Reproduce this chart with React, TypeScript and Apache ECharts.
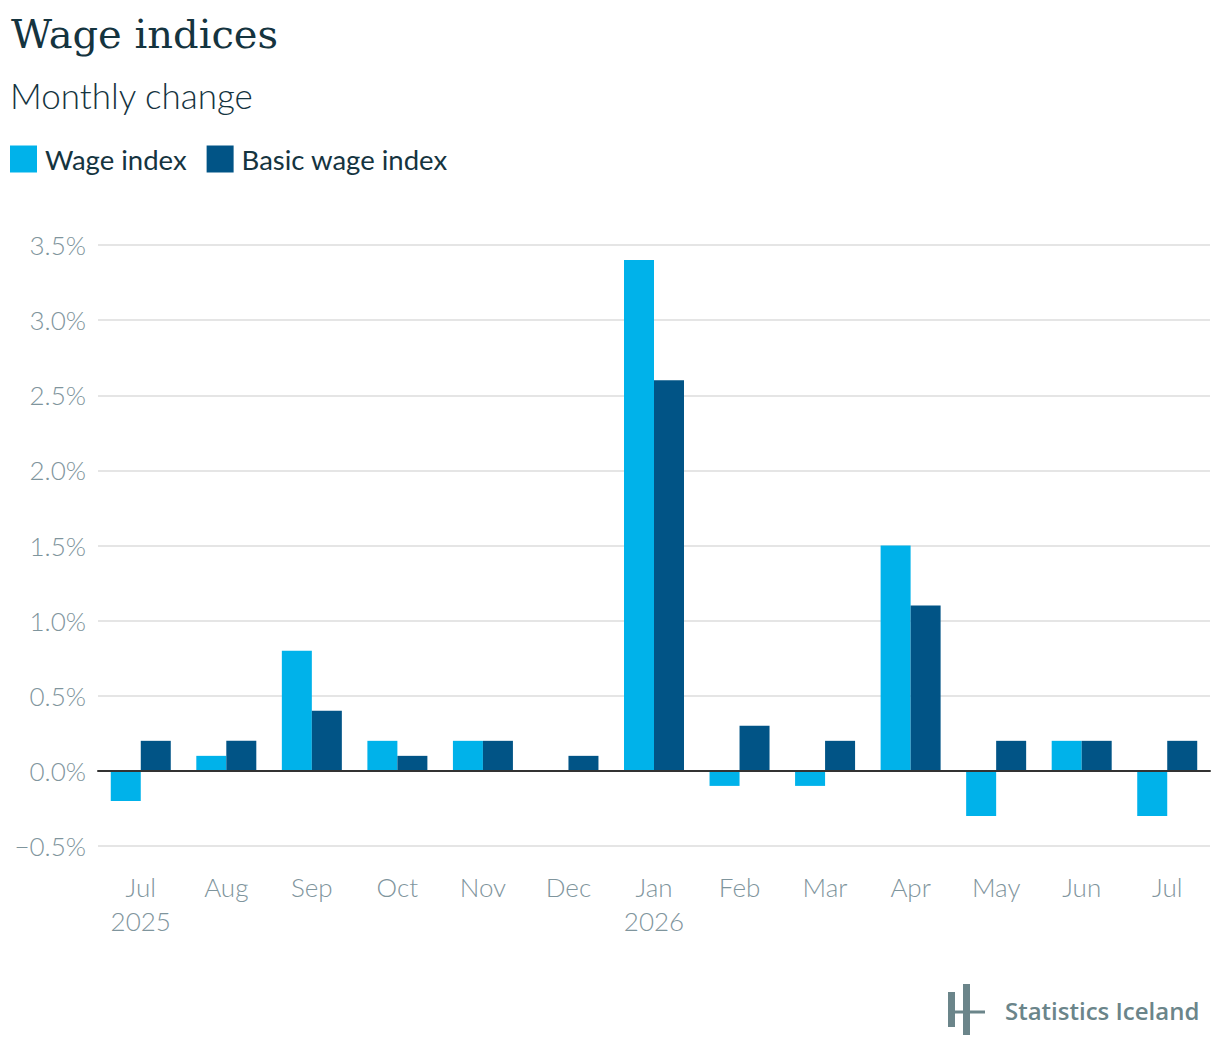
import React, { useEffect, useRef } from "react";
import * as echarts from "echarts";

const months = ["Jul\n2025", "Aug", "Sep", "Oct", "Nov", "Dec", "Jan\n2026", "Feb", "Mar", "Apr", "May", "Jun", "Jul"];
const wageIndex = [-0.2, 0.1, 0.8, 0.2, 0.2, 0, 3.4, -0.1, -0.1, 1.5, -0.3, 0.2, -0.3];
const basicWageIndex = [0.2, 0.2, 0.4, 0.1, 0.2, 0.1, 2.6, 0.3, 0.2, 1.1, 0.2, 0.2, 0.2];
const seriesNames = ["Wage index", "Basic wage index"];

const WAGE_COLOR = "#00b2ea";
const BASIC_COLOR = "#015486";
const DARK = "#15343f";
const AXIS_GREY = "#7f959d";
const LOGO_GREY = "#6b858a";

export default function App() {
  const ref = useRef<HTMLDivElement>(null);
  useEffect(() => {
    document.body.style.margin = "0";
    if (!ref.current) return;
    const chart = echarts.init(ref.current, null, { renderer: "svg" });
    chart.setOption({
      animation: false,
      backgroundColor: "#ffffff",
      title: [
        {
          text: "Wage indices",
          left: 11,
          top: 14,
          padding: 0,
          textStyle: { fontFamily: "DejaVu Serif", fontSize: 40, fontWeight: "normal", color: DARK },
        },
        {
          text: "Monthly change",
          left: 10,
          top: 77,
          padding: 0,
          textStyle: { fontFamily: "Lato", fontSize: 35, fontWeight: 300, color: DARK },
        },
      ],
      legend: {
        left: 10,
        top: 145,
        padding: 0,
        itemWidth: 27,
        itemHeight: 27,
        itemGap: 20,
        icon: "rect",
        data: seriesNames,
        textStyle: { fontFamily: "Lato", fontSize: 27.5, color: DARK, padding: [0, 0, 0, 3] },
      },
      grid: { left: 98, right: 10, top: 245, bottom: 214, containLabel: false },
      xAxis: {
        type: "category",
        data: months,
        axisLine: { onZero: true, lineStyle: { color: "#333333", width: 2 } },
        axisTick: { show: false },
        axisLabel: {
          fontFamily: "Lato",
          fontWeight: 300,
          fontSize: 26,
          lineHeight: 34,
          color: AXIS_GREY,
          margin: 24,
          verticalAlign: "top",
        },
        z: 10,
      },
      yAxis: {
        type: "value",
        min: -0.5,
        max: 3.5,
        interval: 0.5,
        axisLine: { show: false },
        axisTick: { show: false },
        splitLine: { lineStyle: { color: "#e5e5e5", width: 2 } },
        axisLabel: {
          fontFamily: "Lato",
          fontWeight: 300,
          fontSize: 26,
          color: AXIS_GREY,
          margin: 12,
          formatter: (v: number) => (v < 0 ? "\u2212" : "") + Math.abs(v).toFixed(1) + "%",
        },
      },
      series: [
        {
          name: seriesNames[0],
          type: "bar",
          data: wageIndex,
          barWidth: 30,
          barGap: "0%",
          itemStyle: { color: WAGE_COLOR },
        },
        {
          name: seriesNames[1],
          type: "bar",
          data: basicWageIndex,
          barWidth: 30,
          barGap: "0%",
          itemStyle: { color: BASIC_COLOR },
        },
      ],
      graphic: [
        { type: "rect", shape: { x: 948, y: 992, width: 7, height: 35 }, style: { fill: LOGO_GREY } },
        { type: "rect", shape: { x: 963, y: 984, width: 7, height: 51 }, style: { fill: LOGO_GREY } },
        { type: "rect", shape: { x: 948, y: 1010.5, width: 37, height: 3 }, style: { fill: LOGO_GREY } },
        {
          type: "text",
          x: 1005,
          y: 1010,
          style: {
            text: "Statistics Iceland",
            fontFamily: "Open Sans",
            fontWeight: 600,
            fontSize: 24,
            fill: LOGO_GREY,
            verticalAlign: "middle",
          },
        },
      ],
    });
    return () => chart.dispose();
  }, []);
  return <div ref={ref} style={{ width: 1220, height: 1060 }} />;
}
